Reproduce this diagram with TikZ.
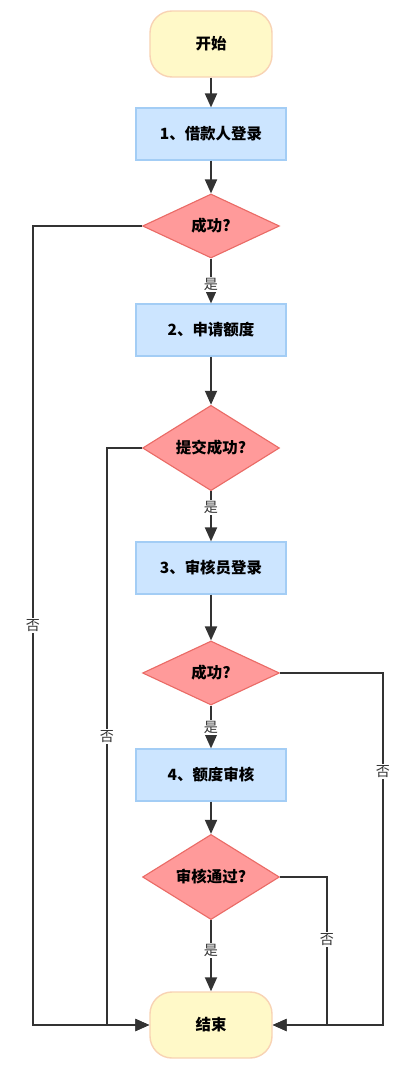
\documentclass[tikz,border=0pt]{standalone}
\usepackage{fontspec}
\newfontfamily\cjk{Noto Sans CJK SC}
\usetikzlibrary{arrows.meta,shapes.geometric}
\definecolor{termfill}{HTML}{FFF9C8}
\definecolor{termline}{HTML}{F8D3B4}
\definecolor{procfill}{HTML}{CCE5FF}
\definecolor{procline}{HTML}{A3CDF5}
\definecolor{decfill}{HTML}{FF9A9A}
\definecolor{decline}{HTML}{EA6B66}
\definecolor{edgecol}{HTML}{333333}

\begin{document}
\begin{tikzpicture}[
    x=0.025cm, y=-0.025cm,
    term node/.style={rectangle, rounded corners=5.5mm, draw=termline, fill=termfill, line width=1pt, minimum width=3.05cm, minimum height=1.65cm, font=\cjk\bfseries\fontsize{11}{13}\selectfont},
    proc node/.style={rectangle, draw=procline, fill=procfill, line width=0.8pt, minimum width=3.75cm, minimum height=1.3cm, font=\cjk\bfseries\fontsize{11}{13}\selectfont},
    dec node/.style={diamond, draw=decline, fill=decfill, line width=0.8pt, inner sep=0pt, minimum width=3.42cm, minimum height=1.6cm, font=\cjk\bfseries\fontsize{11}{13}\selectfont},
    lab node/.style={fill=white, text=edgecol, inner sep=1pt, font=\cjk\fontsize{10}{12}\selectfont},
    main edge/.style={draw=edgecol, line width=1.3pt, -{Triangle[length=3.5mm,width=3mm]}}
]
\useasboundingbox (0,0) rectangle (408,1075);

% 流程节点 (自上而下)
\node[term node] (start) at (211, 44) {开始};
\node[proc node] (login) at (211, 134) {1、借款人登录};
\node[dec node] (ok1) at (211, 226) {成功?};
\node[proc node] (apply) at (211, 330) {2、申请额度};
\node[dec node] (ok2) at (211, 448) {提交成功?};
\node[proc node] (audlogin) at (211, 568) {3、审核员登录};
\node[dec node] (ok3) at (211, 673) {成功?};
\node[proc node] (audit) at (211, 775) {4、额度审核};
\node[dec node] (ok4) at (211, 877) {审核通过?};
\node[term node] (end) at (211, 1025) {结束};

% 回到结束的拐点
\coordinate (farL) at (33, 1025);
\coordinate (nearL) at (107, 1025);
\coordinate (farR) at (383, 1025);
\coordinate (nearR) at (327, 1025);

% 主干连线
\draw[main edge] (start) -- (login);
\draw[main edge] (login) -- (ok1);
\draw[main edge] (ok1) -- node[lab node, pos=0.58] {是} (apply);
\draw[main edge] (apply) -- (ok2);
\draw[main edge] (ok2) -- node[lab node, pos=0.32] {是} (audlogin);
\draw[main edge] (audlogin) -- (ok3);
\draw[main edge] (ok3) -- node[lab node, pos=0.52] {是} (audit);
\draw[main edge] (audit) -- (ok4);
\draw[main edge] (ok4) -- node[lab node, pos=0.43] {是} (end);

% 否 分支
\draw[main edge] (ok1.west) -| node[lab node, pos=0.75] {否} (farL) -- (end.west);
\draw[main edge] (ok2.west) -| node[lab node, pos=0.75] {否} (nearL) -- (end.west);
\draw[main edge] (ok3.east) -| node[lab node, pos=0.64] {否} (farR) -- (end.east);
\draw[main edge] (ok4.east) -| node[lab node, pos=0.71] {否} (nearR) -- (end.east);

\end{tikzpicture}
\end{document}
